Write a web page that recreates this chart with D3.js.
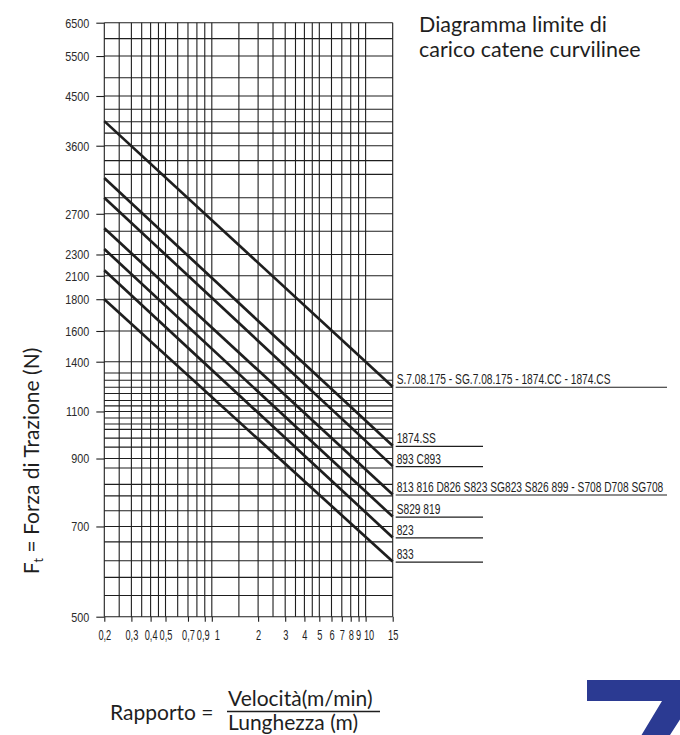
<!DOCTYPE html>
<html>
<head>
<meta charset="utf-8">
<script src="https://cdn.jsdelivr.net/npm/d3@7"></script>
<style>
  html, body { margin: 0; padding: 0; background: #fff; }
  svg { display: block; }
  .narrow { font-family: 'Liberation Sans', Arial, sans-serif; }
  .geo { font-family: Lato, 'Open Sans', sans-serif; }
</style>
</head>
<body>
<svg id="chart" width="680" height="735"></svg>
<script>
// ---------- DATA ----------
// labelled force ticks (N) on the Y axis
const yTickValues = [500, 700, 900, 1100, 1400, 1600, 1800, 2100, 2300, 2700, 3600, 4500, 5500, 6500];
// unlabelled horizontal grid values (N)
const yGridExtra = [6000, 4930, 4240, 4010, 3810, 3380, 3190, 2890, 2520,
                    1325, 1280, 1237, 1200, 1160, 1130,
                    1070, 1043, 1019, 982, 945,
                    869, 818, 784, 742,
                    661, 616, 579, 541];
// X axis (Rapporto) labelled ticks and grid values
const xTickValues = [0.2, 0.3, 0.4, 0.5, 0.7, 0.9, 1, 2, 3, 4, 5, 6, 7, 8, 9, 10, 15];
const xGridValues = [0.2, 0.25, 0.3, 0.35, 0.4, 0.45, 0.5, 0.6, 0.7, 0.8, 0.9, 1,
                     1.5, 2, 2.5, 3, 3.5, 4, 4.5, 5, 6, 7, 8, 9, 10, 15];
// chain series
const seriesNames = [
  "S.7.08.175 - SG.7.08.175 - 1874.CC - 1874.CS",
  "1874.SS",
  "893 C893",
  "813 816 D826 S823 SG823 S826 899 - S708 D708 SG708",
  "S829 819",
  "823",
  "833"
];
const ratioStart = 0.2;
const ratioEnd = 15;
const forceAtStart = [4020, 3140, 2890, 2550, 2350, 2150, 1800];
const forceAtEnd   = [1240, 950, 875, 788, 726, 672, 614];
const longLabel    = [true, false, false, true, false, false, false];

// ---------- LAYOUT ----------
const svg = d3.select("#chart");
const L = 104.3, R = 392.7, T = 22.7, B = 616.7;
const H = B - T;

const x = d3.scaleLog().domain([0.2, 15]).range([L, R]);
// the printed force axis is a hand-drawn (non-uniform) logarithmic scale:
// piecewise log scale calibrated on its labelled ticks
const yCal = [0, 0.1519, 0.2663, 0.3455, 0.4293, 0.481, 0.5345, 0.5739, 0.6098, 0.6783, 0.7929, 0.8766, 0.9439, 1];
const y = d3.scaleLog().domain(yTickValues).range(yCal.map(f => B - f * H));

const ink = "#1e1e1e";

// squeeze a text horizontally (the original uses a condensed face)
function condense(sel, k) {
  sel.each(function () {
    const w = this.getComputedTextLength();
    d3.select(this).attr("textLength", w * k).attr("lengthAdjust", "spacingAndGlyphs");
  });
}

const g = svg.append("g");

// horizontal grid
const allY = yTickValues.concat(yGridExtra);
g.selectAll("line.hg").data(allY).join("line")
  .attr("x1", L).attr("x2", R)
  .attr("y1", d => y(d)).attr("y2", d => y(d))
  .attr("stroke", ink).attr("stroke-width", 1.1);

// vertical grid
g.selectAll("line.vg").data(xGridValues).join("line")
  .attr("x1", d => x(d)).attr("x2", d => x(d))
  .attr("y1", T).attr("y2", B)
  .attr("stroke", ink).attr("stroke-width", 1.1);

// Y axis ticks + labels
const yAxis = d3.axisLeft(y).tickValues(yTickValues).tickSize(8).tickPadding(7)
  .tickFormat(d3.format("d"));
const ya = svg.append("g").attr("transform", `translate(${L},0)`).call(yAxis);
ya.attr("font-family", null);
ya.select(".domain").remove();
ya.selectAll(".tick line").attr("stroke", ink).attr("stroke-width", 1.1);
ya.selectAll(".tick text").attr("class", "narrow")
  .attr("font-size", 13.5).attr("fill", "#2a2a2a").call(condense, 0.8);

// X axis ticks + labels
const itLocale = d3.formatLocale({decimal: ",", thousands: ".", grouping: [3], currency: ["", "€"]});
const fmtX = itLocale.format("~g");
const xAxis = d3.axisBottom(x).tickValues(xTickValues).tickSize(5).tickPadding(8).tickFormat(fmtX);
const xa = svg.append("g").attr("transform", `translate(0,${B})`).call(xAxis);
xa.attr("font-family", null);
xa.select(".domain").remove();
xa.selectAll(".tick line").attr("stroke", ink).attr("stroke-width", 1.1);
xa.selectAll(".tick text").attr("class", "narrow")
  .attr("font-size", 14).attr("fill", ink)
  .attr("dx", d => d === 1 ? 5 : d === 0.9 ? -2 : d === 10 ? 3 : d === 9 ? -0.5 : 0)
  .call(condense, 0.66);

// series lines
const series = seriesNames.map((name, i) => ({
  name, long: longLabel[i],
  pts: [[ratioStart, forceAtStart[i]], [ratioEnd, forceAtEnd[i]]]
}));
const line = d3.line().x(d => x(d[0])).y(d => y(d[1]));
svg.append("g").selectAll("path").data(series).join("path")
  .attr("d", d => line(d.pts))
  .attr("fill", "none").attr("stroke", ink).attr("stroke-width", 2.7);

// series labels with underline
const lab = svg.append("g").selectAll("g").data(series).join("g")
  .attr("transform", d => `translate(0,${y(d.pts[1][1])})`);
lab.append("line")
  .attr("x1", R + 3).attr("x2", d => d.long ? 667 : 483)
  .attr("y1", 0.5).attr("y2", 0.5)
  .attr("stroke", ink).attr("stroke-width", 1.1);
lab.append("text").attr("class", "narrow")
  .attr("x", R + 4).attr("y", -2.5)
  .attr("font-size", 15).attr("fill", ink)
  .text(d => d.name)
  .call(condense, 0.68);

// title
const title = svg.append("text").attr("class", "geo")
  .attr("x", 419).attr("y", 32).attr("font-size", 21.5).attr("fill", ink);
title.append("tspan").attr("x", 419).attr("y", 32).text("Diagramma limite di");
title.append("tspan").attr("x", 419).attr("y", 57).text("carico catene curvilinee");

// Y axis title
const yt = svg.append("text").attr("class", "geo")
  .attr("transform", "translate(39,461) rotate(-90)")
  .attr("text-anchor", "middle").attr("font-size", 21).attr("fill", ink);
yt.append("tspan").text("F");
yt.append("tspan").attr("font-size", 12.5).attr("dy", 4).text("t");
yt.append("tspan").attr("dy", -4).text(" = Forza di Trazione (N)");

// formula
const fx = svg.append("g").attr("class", "geo").attr("fill", ink);
fx.append("text").attr("x", 110).attr("y", 720).attr("font-size", 21).text("Rapporto =");
fx.append("text").attr("x", 228).attr("y", 706).attr("font-size", 21).text("Velocità(m/min)");
fx.append("line").attr("x1", 227).attr("x2", 380).attr("y1", 711.5).attr("y2", 711.5)
  .attr("stroke", ink).attr("stroke-width", 1.4);
fx.append("text").attr("x", 228).attr("y", 730).attr("font-size", 21).text("Lunghezza (m)");

// corner logo "7"
svg.append("path")
  .attr("d", "M587,680 L680,680 L680,701 L692,701 L670,735 L641.5,735 L662,701 L587,701 Z")
  .attr("fill", "#2b3a92");
</script>
</body>
</html>
